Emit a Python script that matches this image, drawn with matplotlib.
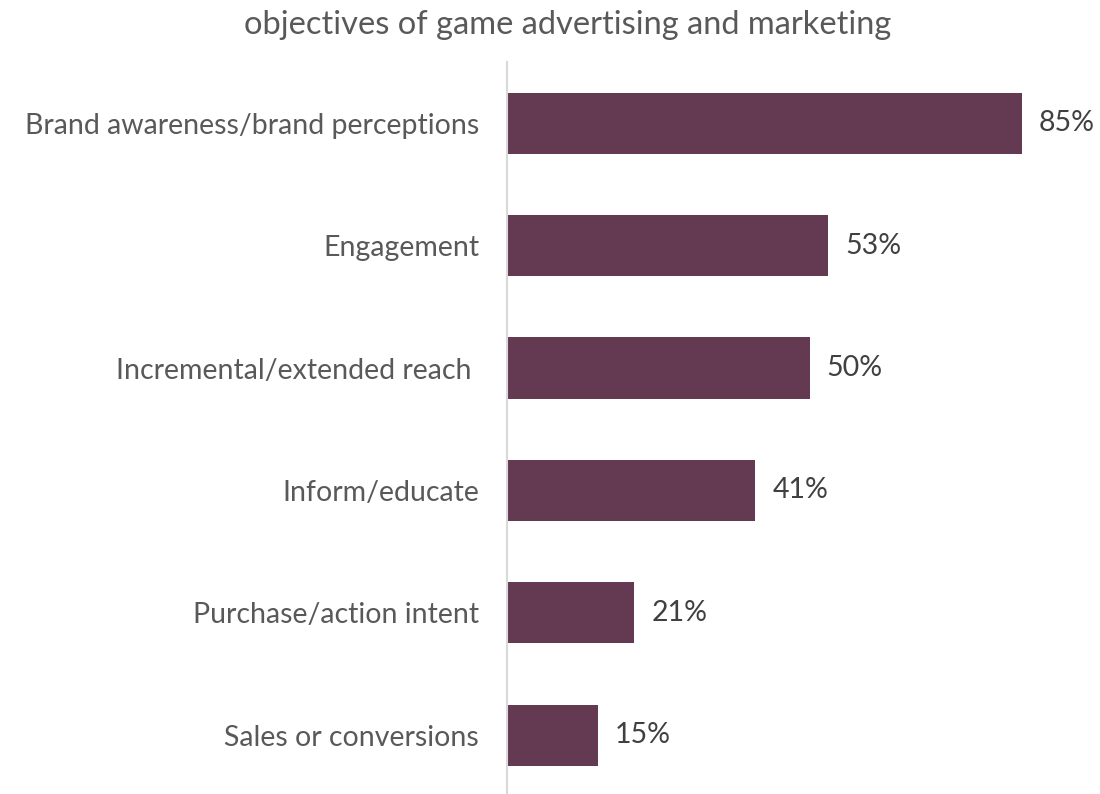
import matplotlib.pyplot as plt

categories = ["Brand awareness/brand perceptions", "Engagement",
              "Incremental/extended reach ", "Inform/educate",
              "Purchase/action intent", "Sales or conversions"]
values = [85, 53, 50, 41, 21, 15]

bar_color = "#643A52"
text_color = "#595959"

plt.rcParams['font.family'] = ['Lato', 'DejaVu Sans']

fig = plt.figure(figsize=(11, 7.94), dpi=100)
ax = fig.add_axes([507/1100, 0, 1 - 507/1100, 1 - 62/794])

pos = list(range(len(categories)))
ax.barh(pos, values, height=0.5, color=bar_color)

for p, v in zip(pos, values):
    ax.text(v + 2.8, p, f"{v}%", va="center", ha="left", fontsize=20.5,
            color="#404040")

ax.set_xlim(0, 97.9)
ax.set_ylim(5.48, -0.5)
ax.set_yticks(pos)
ax.set_yticklabels(categories, fontsize=20.5, color=text_color)
ax.tick_params(axis="y", length=0, pad=20)
ax.set_xticks([])

for s in ["top", "right", "bottom"]:
    ax.spines[s].set_visible(False)
ax.spines["left"].set_color("#D9D9D9")
ax.spines["left"].set_linewidth(1.5)

fig.text(568/1100, 1 - 25/794, "objectives of game advertising and marketing",
         ha="center", va="center", fontsize=23.5, color=text_color)

fig.savefig("out.png", dpi=100)
